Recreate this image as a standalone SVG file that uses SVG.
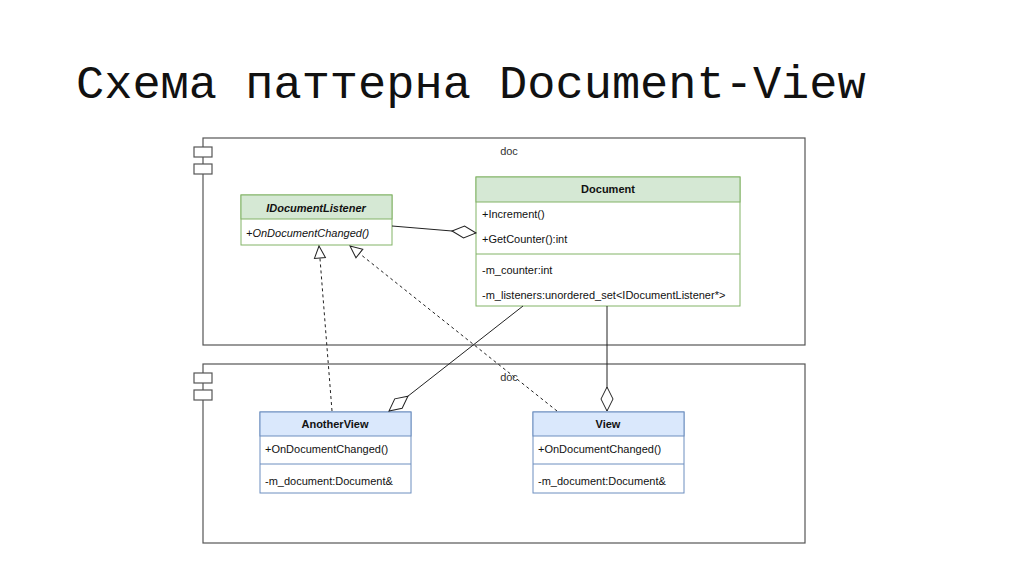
<svg xmlns="http://www.w3.org/2000/svg" width="1024" height="574" viewBox="0 0 1024 574">
<style>
.t{font-family:"Liberation Sans",Arial,sans-serif;font-size:11px;fill:#111}
.b{font-weight:bold}
.i{font-style:italic}
.frame{fill:none;stroke:#555;stroke-width:1.2}
.icon{fill:#fff;stroke:#555;stroke-width:1.2}
.gh{fill:#d5e8d4;stroke:#82b366}
.gb{fill:#fff;stroke:#82b366}
.bh{fill:#dae8fc;stroke:#6c8ebf}
.bb{fill:#fff;stroke:#6c8ebf}
.gl{stroke:#82b366}
.bl{stroke:#6c8ebf}
.c{fill:none;stroke:#222;stroke-width:1}
.d{stroke-dasharray:3 3}
.lbl{font-family:"Liberation Sans",Arial,sans-serif;font-size:11px;fill:#333}
</style>
<defs>
<marker id="dia" markerUnits="userSpaceOnUse" markerWidth="26" markerHeight="16" refX="24" refY="7" orient="auto" viewBox="-1 -1 26 16">
<path d="M0,7 L12,1 L24,7 L12,13 Z" fill="#fff" stroke="#222" stroke-width="1"/>
</marker>
<marker id="tri" markerUnits="userSpaceOnUse" markerWidth="15" markerHeight="14" refX="12" refY="6" orient="auto" viewBox="-1 -1 15 14">
<path d="M0,0.5 L12,6 L0,11.5 Z" fill="#fff" stroke="#222" stroke-width="1"/>
</marker>
</defs>
<rect width="1024" height="574" fill="#fff"/>
<text x="76" y="98" font-family="'Liberation Mono','Courier New',monospace" font-size="47" fill="#111">Схема паттерна Document-View</text>

<g id="frame-top">
<rect class="frame" x="203" y="138" width="602" height="207"/>
<rect class="icon" x="194" y="147" width="18" height="10"/>
<rect class="icon" x="194" y="164" width="18" height="10"/>
<text class="lbl" x="509" y="155" text-anchor="middle">doc</text>
</g>
<g id="frame-bottom">
<rect class="frame" x="203" y="364" width="602" height="179"/>
<rect class="icon" x="194" y="373" width="18" height="10"/>
<rect class="icon" x="194" y="390" width="18" height="10"/>
<text class="lbl" x="509" y="381" text-anchor="middle">doc</text>
</g>

<g id="IDocumentListener">
<rect class="gb" x="241" y="195" width="151" height="50"/>
<rect class="gh" x="241" y="195" width="151" height="24"/>
<text class="t b i" x="316" y="212" text-anchor="middle">IDocumentListener</text>
<text class="t i" x="246" y="237">+OnDocumentChanged()</text>
</g>

<g id="Document">
<rect class="gb" x="476" y="177" width="264" height="129"/>
<rect class="gh" x="476" y="177" width="264" height="25"/>
<text class="t b" x="608" y="193" text-anchor="middle">Document</text>
<text class="t" x="482" y="218">+Increment()</text>
<text class="t" x="482" y="243">+GetCounter():int</text>
<line class="gl" x1="476" y1="254" x2="740" y2="254"/>
<text class="t" x="482" y="274">-m_counter:int</text>
<text class="t" x="482" y="299">-m_listeners:unordered_set&lt;IDocumentListener*&gt;</text>
</g>

<g id="AnotherView">
<rect class="bb" x="260" y="412" width="151" height="81"/>
<rect class="bh" x="260" y="412" width="151" height="24"/>
<text class="t b" x="335" y="428" text-anchor="middle">AnotherView</text>
<text class="t" x="265" y="453">+OnDocumentChanged()</text>
<line class="bl" x1="260" y1="464" x2="411" y2="464"/>
<text class="t" x="265" y="485">-m_document:Document&amp;</text>
</g>

<g id="View">
<rect class="bb" x="533" y="412" width="151" height="81"/>
<rect class="bh" x="533" y="412" width="151" height="24"/>
<text class="t b" x="608" y="428" text-anchor="middle">View</text>
<text class="t" x="538" y="453">+OnDocumentChanged()</text>
<line class="bl" x1="533" y1="464" x2="684" y2="464"/>
<text class="t" x="538" y="485">-m_document:Document&amp;</text>
</g>

<g id="connectors">
<line class="c" x1="392" y1="226" x2="476" y2="233" marker-end="url(#dia)"/>
<line class="c" x1="523" y1="306" x2="389" y2="411" marker-end="url(#dia)"/>
<line class="c" x1="607" y1="306" x2="607" y2="411" marker-end="url(#dia)"/>
<line class="c d" x1="332" y1="411" x2="319" y2="246" marker-end="url(#tri)"/>
<line class="c d" x1="557" y1="411" x2="350" y2="246" marker-end="url(#tri)"/>
</g>
</svg>
